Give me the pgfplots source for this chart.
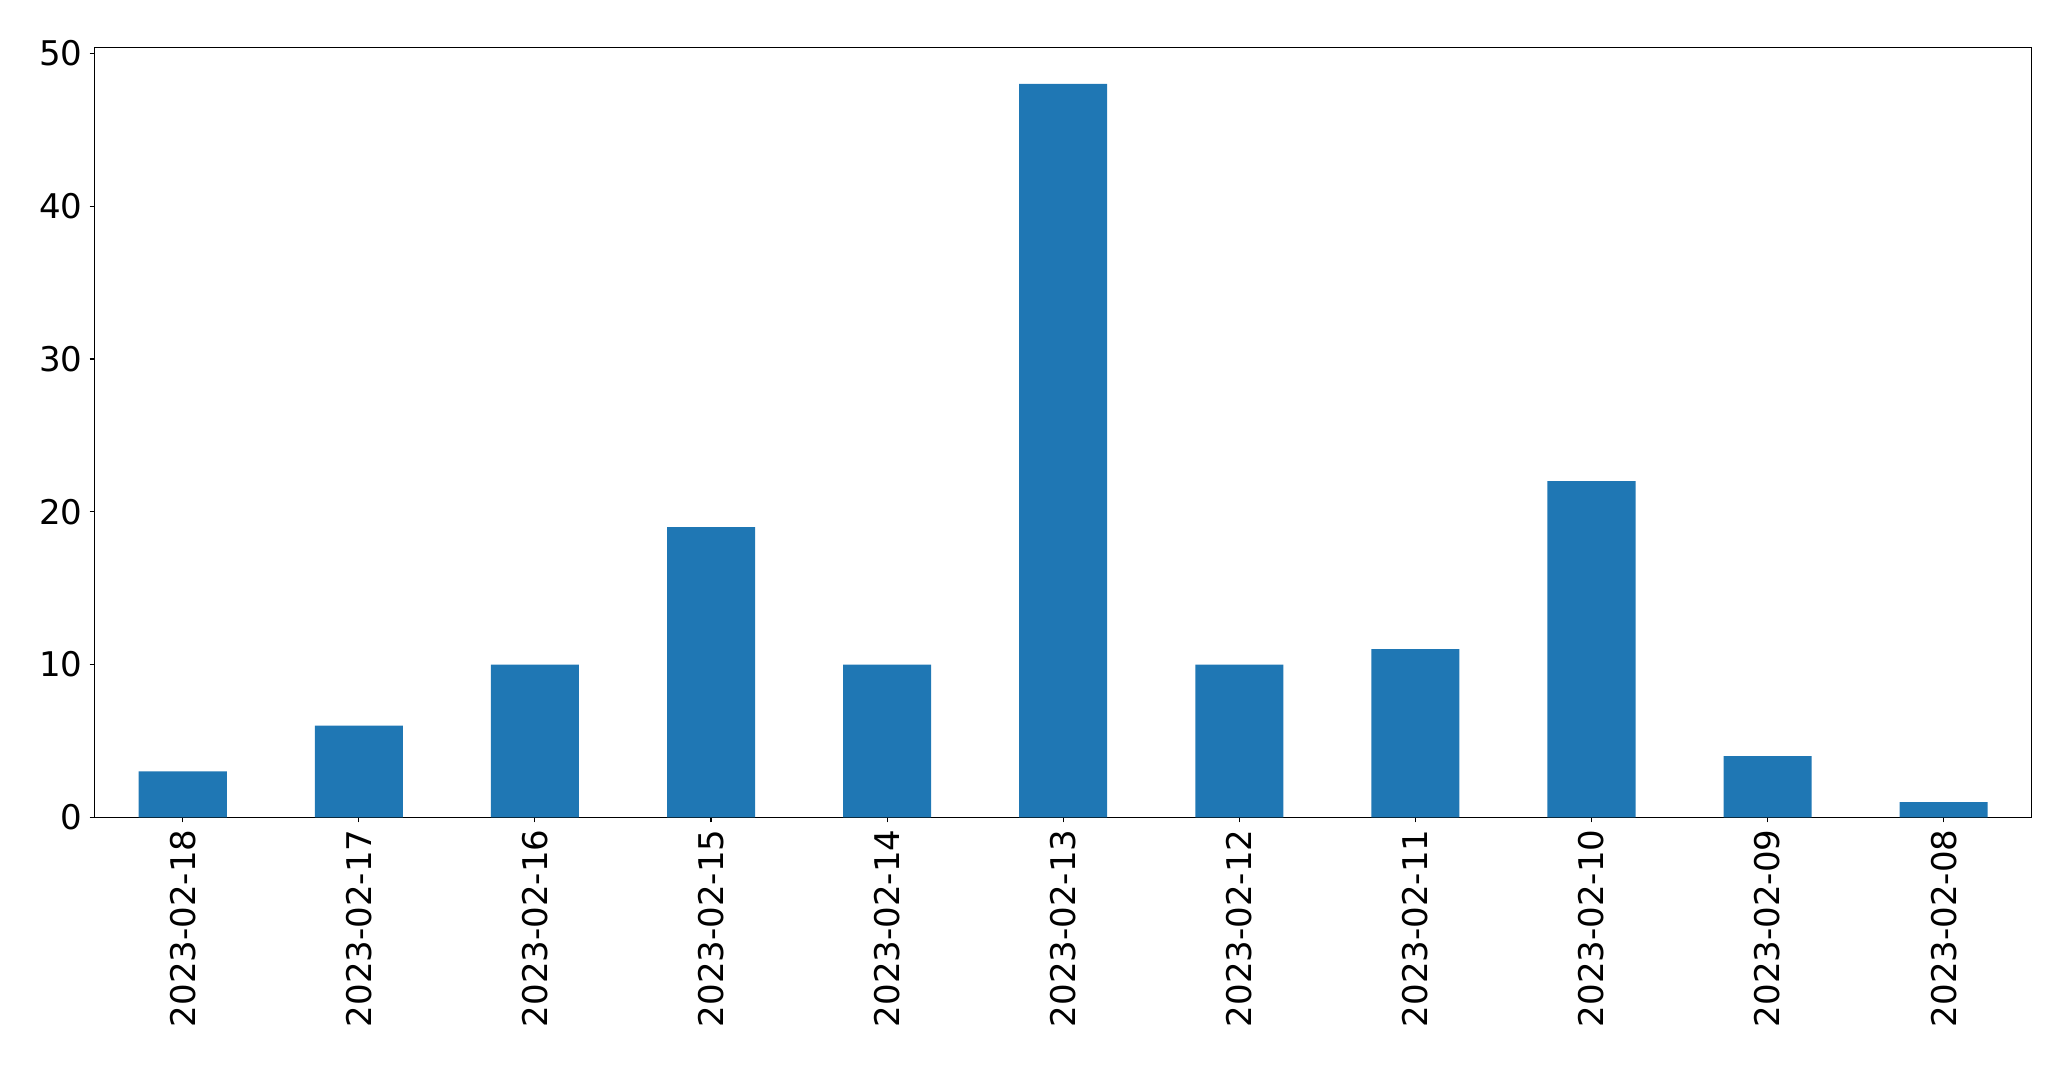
\documentclass[border=0pt]{standalone}
\usepackage{fontspec}
\setmainfont{DejaVu Sans}
\usepackage{pgfplots}
\pgfplotsset{compat=1.18}
\definecolor{mplblue}{HTML}{1F77B4}
\begin{document}
\begin{tikzpicture}
\path[use as bounding box] (-47.35pt,-125.85pt) rectangle (988.15pt,408.65pt);
\begin{axis}[
 at={(0pt,0pt)}, anchor=south west,
 width=968.5pt, height=385pt, scale only axis,
 xmin=-0.5, xmax=10.5, ymin=0, ymax=50.4,
 ybar, bar width=0.5,
 xtick={0,...,10},
 xticklabels={2023-02-18,2023-02-17,2023-02-16,2023-02-15,2023-02-14,2023-02-13,2023-02-12,2023-02-11,2023-02-10,2023-02-09,2023-02-08},
 ytick={0,10,20,30,40,50},
 xtick pos=bottom, ytick pos=left,
 tick align=outside, major tick length=2.6pt,
 axis line style={line width=0.55pt},
 tick style={line width=0.55pt, black},
 ticklabel style={font=\fontsize{17}{20}\selectfont},
 xticklabel style={rotate=90, anchor=east},
 /pgf/number format/assume math mode=true,
]
\addplot[fill=mplblue, draw=none] coordinates {(0,3) (1,6) (2,10) (3,19) (4,10) (5,48) (6,10) (7,11) (8,22) (9,4) (10,1)};
\end{axis}
\end{tikzpicture}
\end{document}
